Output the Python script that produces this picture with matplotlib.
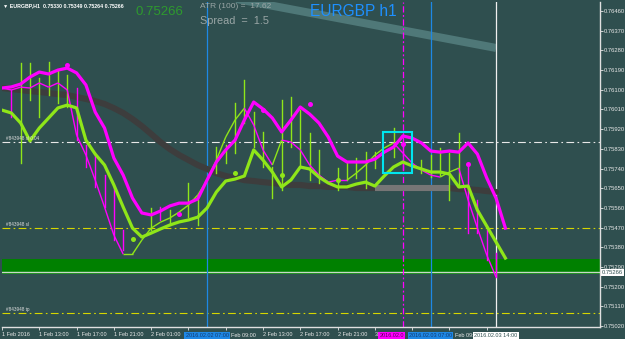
import matplotlib
matplotlib.use('Agg')
import matplotlib.pyplot as plt
from matplotlib.collections import LineCollection
from matplotlib.patches import Rectangle
from matplotlib.transforms import blended_transform_factory
import numpy as np

# H1 bars, bar 0 = 1 Feb 2016 09:00
SLOW_MA = [0.76108, 0.76103, 0.76099, 0.76094, 0.76090, 0.76085, 0.76080, 0.76076, 0.76067, 0.76058,
           0.76048, 0.76035, 0.76016, 0.75994, 0.75966, 0.75934, 0.75898, 0.75861, 0.75829, 0.75802,
           0.75779, 0.75756, 0.75738, 0.75719, 0.75706, 0.75697, 0.75687, 0.75683, 0.75678, 0.75674,
           0.75669, 0.75665, 0.75665, 0.75660, 0.75660, 0.75656, 0.75656, 0.75656, 0.75651, 0.75651,
           0.75651, 0.75651, 0.75651, 0.75651, 0.75651, 0.75651, 0.75651, 0.75651, 0.75651, 0.75646,
           0.75646, 0.75642, 0.75637, 0.75633]
SLOW_FLAT = (40, 48)   # bars where the slow MA is flat (lighter grey)

UPPER_MA = [0.76108, 0.76113, 0.76126, 0.76158, 0.76181, 0.76172, 0.76190, 0.76199, 0.76177, 0.76122,
            0.75998, 0.75925, 0.75788, 0.75710, 0.75605, 0.75537, 0.75528, 0.75546, 0.75569, 0.75582,
            0.75582, 0.75601, 0.75688, 0.75770, 0.75825, 0.75870, 0.75962, 0.76044, 0.76012, 0.75971,
            0.75907, 0.75962, 0.76021, 0.75989, 0.75948, 0.75884, 0.75797, 0.75770, 0.75770, 0.75770,
            0.75783, 0.75815, 0.75838, 0.75889, 0.75879, 0.75857, 0.75820, 0.75815, 0.75820, 0.75815,
            0.75857, 0.75806, 0.75697, 0.75605, 0.75468]

LOWER_MA = [0.76007, 0.75994, 0.75948, 0.75866, 0.75925, 0.75971, 0.76017, 0.76030, 0.76017, 0.75870,
            0.75806, 0.75756, 0.75665, 0.75564, 0.75468, 0.75427, 0.75445, 0.75464, 0.75482, 0.75496,
            0.75505, 0.75518, 0.75560, 0.75633, 0.75683, 0.75692, 0.75706, 0.75825, 0.75779, 0.75724,
            0.75656, 0.75688, 0.75747, 0.75738, 0.75701, 0.75674, 0.75656, 0.75656, 0.75669, 0.75678,
            0.75660, 0.75706, 0.75747, 0.75770, 0.75752, 0.75738, 0.75724, 0.75724, 0.75715, 0.75656,
            0.75660, 0.75550, 0.75477, 0.75404, 0.75331]

FAST_MA = [0.76108, 0.76099, 0.76112, 0.76108, 0.76131, 0.76112, 0.76131, 0.76099, 0.75893, 0.75802,
           0.75687, 0.75564, 0.75436, 0.75349, 0.75349, 0.75413, 0.75468, 0.75495, 0.75514, 0.75541,
           0.75573, 0.75619, 0.75687, 0.75779, 0.75884, 0.75962, 0.76016, 0.75939, 0.75825, 0.75756,
           0.75870, 0.75861, 0.75825, 0.75756, 0.75710, 0.75678, 0.75687, 0.75687, 0.75719, 0.75756,
           0.75802, 0.75834, 0.75857, 0.75811, 0.75765, 0.75733, 0.75710, 0.75701, 0.75724, 0.75742,
           0.75596, 0.75468, 0.75345, 0.75244]
FAST_UP = [0] * 14 + [1] * 13 + [0] * 3 + [1] + [0] * 7 + [1] * 5 + [0] * 5 + [1] * 2 + [0] * 4

WICK_BARS = [1, 2, 3, 4, 5, 6, 7, 8, 9, 10, 11, 12, 13, 16, 17, 18, 20, 21, 23, 24, 25, 26, 27, 28,
             29, 30, 31, 32, 33, 34, 36, 37, 38, 39, 40, 42, 43, 45, 46, 47, 48, 49, 50, 51, 52, 53]
WICK_HI = [0.76099, 0.76222, 0.76222, 0.76154, 0.76227, 0.76190, 0.76167, 0.76108, 0.75847, 0.75811,
           0.75710, 0.75655, 0.75459, 0.75559, 0.75564, 0.75550, 0.75674, 0.75596, 0.75838, 0.75847,
           0.76039, 0.76144, 0.75998, 0.75907, 0.75747, 0.76053, 0.76067, 0.76007, 0.75902, 0.75825,
           0.75742, 0.75765, 0.75788, 0.75815, 0.75815, 0.75925, 0.75861, 0.75779, 0.75802, 0.75834,
           0.75811, 0.75902, 0.75765, 0.75596, 0.75459, 0.75354]
WICK_LO = [0.75975, 0.75765, 0.76053, 0.75975, 0.76076, 0.76039, 0.76021, 0.75870, 0.75747, 0.75655,
           0.75564, 0.75413, 0.75368, 0.75459, 0.75505, 0.75482, 0.75518, 0.75482, 0.75719, 0.75765,
           0.75811, 0.75948, 0.75838, 0.75747, 0.75605, 0.75642, 0.75838, 0.75747, 0.75687, 0.75674,
           0.75642, 0.75687, 0.75697, 0.75651, 0.75742, 0.75793, 0.75733, 0.75719, 0.75701, 0.75710,
           0.75596, 0.75655, 0.75445, 0.75445, 0.75322, 0.75244]
WICK_UP = [0, 1, 1, 1, 1, 1, 1, 0, 0, 0, 0, 0, 0, 1, 0, 1, 1, 1, 1, 1, 1, 1, 1, 1,
           1, 1, 1, 1, 1, 1, 1, 1, 1, 1, 1, 1, 0, 1, 1, 1, 1, 1, 0, 0, 0, 0]

DOT_BARS = [7, 19, 28, 33, 43, 50, 14, 25, 30, 36]
DOT_PRICE = [0.76213, 0.75532, 0.76007, 0.76035, 0.75852, 0.75760, 0.75418, 0.75719, 0.75710, 0.75687]
DOT_UP = [0, 0, 0, 0, 0, 0, 1, 1, 1, 1]

TREND_BARS = [22, 53]
TREND_PRICE = [0.76540, 0.76291]

HLINES = [0.75861, 0.75467, 0.75081]
HLINE_LABELS = ['#843948 sl 0.04', '#843948 sl', '#843948 tp']
ZONE = (0.75258, 0.75326)
BID = 0.75266
BOX_BARS = (40.9, 44.0)
BOX_PRICE = (0.75719, 0.75907)

VLINE_BARS = [22, 43, 46, 53]
VLINE_LABELS = ['2016.02.02 07:00', '2016.02.03 04:00', '2016.02.03 07:00', '2016.02.03 14:00']

PRICE_TICKS = [0.76460, 0.76370, 0.76280, 0.76190, 0.76100, 0.76010, 0.75920, 0.75830, 0.75740,
               0.75650, 0.75560, 0.75470, 0.75380, 0.75290, 0.75200, 0.75110, 0.75020]
TIME_TICKS = [0, 4, 8, 12, 16, 20, 24, 28, 32, 36, 40, 44, 48, 52]
TIME_LABELS = ['1 Feb 2016', '1 Feb 13:00', '1 Feb 17:00', '1 Feb 21:00', '2 Feb 01:00', '2 Feb 05:00',
               '2 Feb 09:00', '2 Feb 13:00', '2 Feb 17:00', '2 Feb 21:00', '3 Feb 01:00', '3 Feb 05:00',
               '3 Feb 09:00', '3 Feb 13:00']
# how much of each time label is left visible next to the vertical-line time boxes
HIDDEN = {5: '', 6: '', 10: '3', 11: '', 12: '', 13: ''}

BG = '#2f4f4f'
LIME = '#8fe619'
MAG = '#ff00ff'
FONT = 'Liberation Sans'

fig = plt.figure(figsize=(6.25, 3.39), dpi=100, facecolor=BG)
ax = fig.add_axes([2 / 625, 12 / 339, 598 / 625, 325 / 339], facecolor=BG)
ax.set_xlim(0.05, 64.15)
ax.set_ylim(0.75016, 0.76501)
for s in ax.spines.values():
    s.set_color('#e0e0e0')
    s.set_linewidth(1)
ax.spines['top'].set_visible(False)
ax.spines['left'].set_visible(False)

# background objects
ax.axhspan(*ZONE, color='#008000', zorder=1, lw=0)
ax.axhline(BID, color='#c8d8c8', lw=1, zorder=1.5)
ax.plot(TREND_BARS, TREND_PRICE, color='#4f7878', lw=5.8, solid_capstyle='butt', zorder=1)
ax.axhline(HLINES[0], color='#e8e8e8', lw=0.8, ls=(0, (7, 3, 1.5, 3)), zorder=2)
ax.axhline(HLINES[1], color='#d6d600', lw=0.8, ls=(0, (7, 3, 1.5, 3)), zorder=2)
ax.axhline(HLINES[2], color='#d6d600', lw=0.8, ls=(0, (7, 3, 1.5, 3)), zorder=2)
for p, lab in zip(HLINES, HLINE_LABELS):
    ax.text(0.4, p + 0.00005, lab, fontsize=3.3, color='#e0e0e0', family=FONT, va='bottom', zorder=6)

vcolors = ['#1e88e5', MAG, '#1e88e5', '#f0f0f0']
for b, c in zip(VLINE_BARS, vcolors):
    ls = (0, (5, 2, 1.5, 2)) if c == MAG else '-'
    ax.axvline(b, color=c, lw=0.9, ls=ls, zorder=2)

# slow MA
bars = np.arange(len(SLOW_MA))
ax.plot(bars, SLOW_MA, color='#3d3d3d', lw=4.4, solid_capstyle='round', zorder=3)
f0, f1 = SLOW_FLAT
ax.plot(bars[f0:f1 + 1], SLOW_MA[f0:f1 + 1], color='#767676', lw=4.4, solid_capstyle='butt', zorder=3.1)

# wicks
for b, hi, lo, up in zip(WICK_BARS, WICK_HI, WICK_LO, WICK_UP):
    ax.plot([b, b], [lo, hi], color=LIME if up else MAG, lw=1.0, zorder=4)

# fast MA coloured by trend
fb = np.arange(len(FAST_MA))
segs = [[(fb[i - 1], FAST_MA[i - 1]), (fb[i], FAST_MA[i])] for i in range(1, len(FAST_MA))]
cols = [LIME if FAST_UP[i] else MAG for i in range(1, len(FAST_MA))]
ax.add_collection(LineCollection(segs, colors=cols, linewidths=1.0, zorder=4.5))

# thick MAs
ax.plot(np.arange(len(UPPER_MA)), UPPER_MA, color=MAG, lw=2.3, zorder=5)
ax.plot(np.arange(len(LOWER_MA)), LOWER_MA, color=LIME, lw=2.3, zorder=5)

# fractal dots
for b, p, up in zip(DOT_BARS, DOT_PRICE, DOT_UP):
    ax.plot(b, p, 'o', ms=3.6, color=LIME if up else MAG, mec='none', zorder=6)

ax.add_patch(Rectangle((BOX_BARS[0], BOX_PRICE[0]), BOX_BARS[1] - BOX_BARS[0],
                       BOX_PRICE[1] - BOX_PRICE[0], fill=False, ec='#00e5ee', lw=1.5, zorder=6))

# axes ticks
shown = [HIDDEN.get(i, lab) for i, lab in enumerate(TIME_LABELS)]
ax.yaxis.tick_right()
ax.set_yticks(PRICE_TICKS, [f'{p:.5f}' for p in PRICE_TICKS])
ax.set_xticks(TIME_TICKS, shown, ha='left')
ax.tick_params(axis='y', colors='#e8e8e8', labelsize=4.2, length=2, width=0.6, pad=1)
ax.tick_params(axis='x', colors='#e8e8e8', labelsize=4.0, length=2, width=0.6, pad=1.5)
for t in ax.get_xticklabels() + ax.get_yticklabels():
    t.set_family(FONT)

# bid label on price scale
ax.text(1.003, BID, f'{BID:.5f}', transform=blended_transform_factory(ax.transAxes, ax.transData),
        fontsize=4.2, family=FONT, color='#2f4f4f', va='center', ha='left',
        bbox=dict(boxstyle='square,pad=0.15', fc='white', ec='none'), clip_on=False, zorder=10)

# time labels of vertical lines (magenta one is half covered by the blue one)
tr = blended_transform_factory(ax.transData, ax.transAxes)
box_fc = ['#1e88e5', MAG, '#1e88e5', 'white']
box_tc = ['#123a70', '#5a005a', '#123a70', '#2f4f4f']
for k, (b, lab, fc, tc) in enumerate(zip(VLINE_BARS, VLINE_LABELS, box_fc, box_tc)):
    if k == 1:
        ax.text(b - 2.5, -0.0185, lab[:9], transform=tr, fontsize=4.0, family=FONT, color=tc,
                ha='left', va='top', bbox=dict(boxstyle='square,pad=0.2', fc=fc, ec='none'),
                clip_on=False, zorder=9)
        continue
    ax.text(b, -0.0185, lab, transform=tr, fontsize=4.0, family=FONT, color=tc, ha='center', va='top',
            bbox=dict(boxstyle='square,pad=0.2', fc=fc, ec='none'), clip_on=False, zorder=10)
# visible tails of covered time labels
ax.text(24.55, -0.0185, TIME_LABELS[6][2:], transform=tr, fontsize=4.0, family=FONT, color='#e8e8e8',
        ha='left', va='top', clip_on=False)
ax.text(48.55, -0.0185, TIME_LABELS[12][2:9], transform=tr, fontsize=4.0, family=FONT, color='#e8e8e8',
        ha='left', va='top', clip_on=False)

# header texts
fig.text(3 / 625, 1 - 6 / 339, '\u25bc EURGBP,H1  0.75330 0.75349 0.75264 0.75266', fontsize=3.8,
         color='white', family=['Liberation Sans', 'DejaVu Sans'], va='center', ha='left', weight='bold')
fig.text(136 / 625, 1 - 12 / 339, '0.75266', fontsize=9.5, color='#2e9a2e', family=FONT, va='center')
fig.text(200 / 625, 1 - 7 / 339, 'ATR (100) =  17.62', fontsize=6, color='#9aa6a6', family=FONT, va='center')
fig.text(200 / 625, 1 - 21 / 339, 'Spread  =  1.5', fontsize=7.8, color='#9aa6a6', family=FONT, va='center')
fig.text(310 / 625, 1 - 11 / 339, 'EURGBP h1', fontsize=11.2, color='#1e90ff', family=FONT, va='center')

fig.savefig('out.png', dpi=100, facecolor=BG)
